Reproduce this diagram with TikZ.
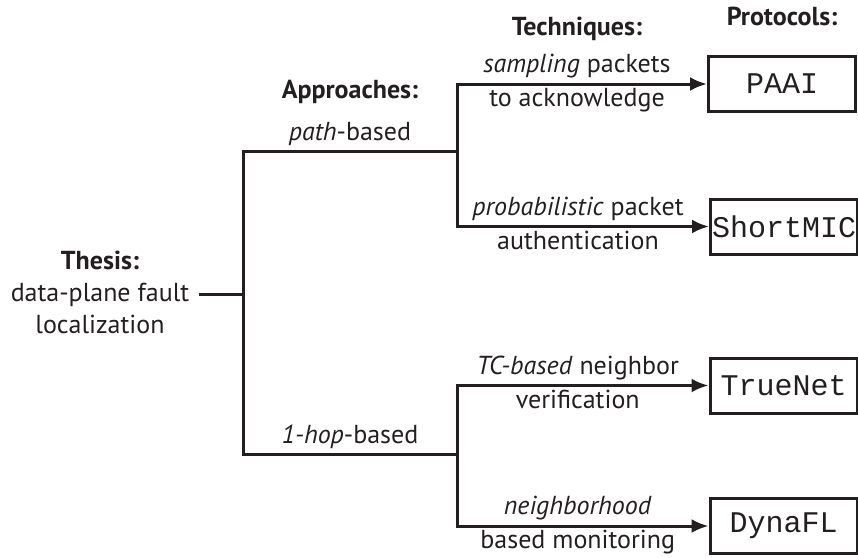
\documentclass[tikz,border=0pt]{standalone}
\usepackage{fontspec}
\setmainfont{PT Sans}
\setmonofont{Liberation Mono}
\usetikzlibrary{arrows.meta}
\usetikzlibrary{positioning}
\definecolor{ink}{HTML}{231F20}

\begin{document}
\begin{tikzpicture}[%
        x=1pt, y=-1pt,
        every node/.style={inner sep=0pt, align=center, font=\fontsize{26}{32}\selectfont},
        proto/.style={draw, line width=3pt, minimum width=147pt, minimum height=55pt, font=\fontsize{30}{30}\selectfont\ttfamily},
        head/.style={font=\fontsize{26}{32}\selectfont\bfseries},
        color=ink, line width=3pt, >={Latex[length=17pt,width=14pt]},
        node distance=12pt
      ]
      \useasboundingbox (0,0) rectangle (858,557);
      % thesis and junctions
      \node (thesis) at (100,292) {\textbf{Thesis:}\\data-plane fault\\localization};
      \coordinate (j0) at (243,294);
      \coordinate (a1) at (243,151);
      \coordinate (a2) at (243,454);
      \coordinate (b1) at (457,151);
      \coordinate (b2) at (457,454);
      % protocols
      \node [proto] (paai) at (782,84) {PAAI};
      \node [proto] (shortmic) at (784,226.5) {ShortMIC};
      \node [proto] (truenet) at (783.5,385.5) {TrueNet};
      \node [proto] (dynafl) at (783.5,526) {DynaFL};
      \node [head] (prothead) [above=28pt of paai] {Protocols:};
      % approaches
      \draw (thesis.east |- j0) ++(8,0) -- (j0);
      \draw (b1) -- node [above=4pt] (pathlbl) {\textit{path}-based} (a1) -- (a2)
        -- node [above=4pt] (hoplbl) {\textit{1-hop}-based} (b2);
      \node [head] (apphead) [above=15pt of pathlbl] {Approaches:};
      % techniques
      \draw [->] (b1) |- node [pos=.74, above=4pt] (samplbl) {\textit{sampling} packets}
        node [pos=.74, below=3pt] {to acknowledge} (paai);
      \draw [->] (b1) |- node [pos=.74, above=4pt] {\textit{probabilistic} packet}
        node [pos=.74, below=3pt] {authentication} (shortmic);
      \draw [->] (b2) |- node [pos=.74, above=4pt] {\textit{TC-based} neighbor}
        node [pos=.74, below=3pt] {verification} (truenet);
      \draw [->] (b2) |- node [pos=.74, above=4pt] {\textit{neighborhood}}
        node [pos=.74, below=3pt] {based monitoring} (dynafl);
      \node [head] (techhead) [above=11pt of samplbl] {Techniques:};
\end{tikzpicture}
\end{document}
